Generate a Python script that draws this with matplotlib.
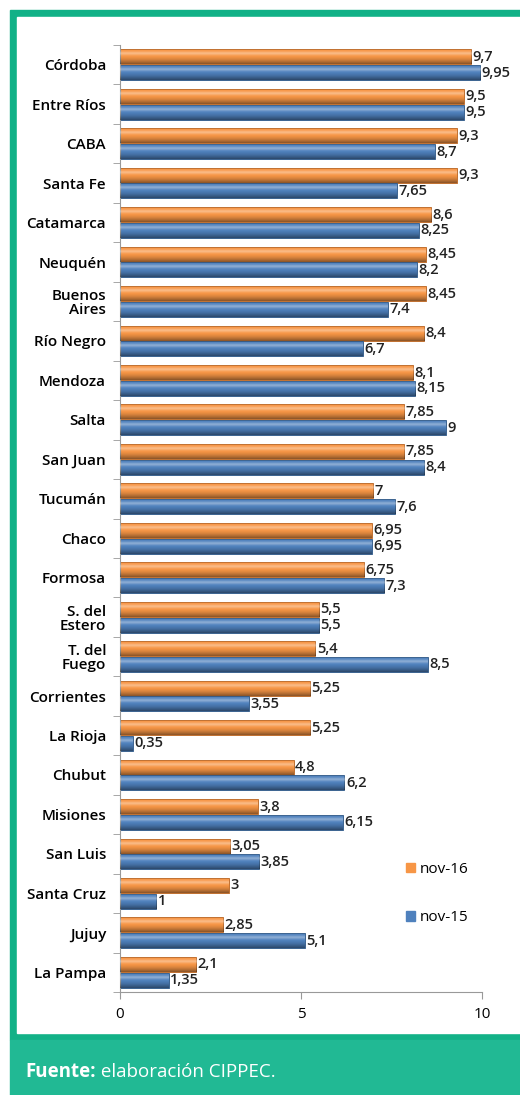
import matplotlib.pyplot as plt
import matplotlib.patches as mpatches
from matplotlib.text import Annotation
import numpy as np

provincias = ["Córdoba", "Entre Ríos", "CABA", "Santa Fe", "Catamarca", "Neuquén",
              "Buenos\nAires", "Río Negro", "Mendoza", "Salta", "San Juan", "Tucumán",
              "Chaco", "Formosa", "S. del\nEstero", "T. del\nFuego", "Corrientes",
              "La Rioja", "Chubut", "Misiones", "San Luis", "Santa Cruz", "Jujuy", "La Pampa"]
nov16 = [9.7, 9.5, 9.3, 9.3, 8.6, 8.45, 8.45, 8.4, 8.1, 7.85, 7.85, 7.0,
         6.95, 6.75, 5.5, 5.4, 5.25, 5.25, 4.8, 3.8, 3.05, 3.0, 2.85, 2.1]
nov15 = [9.95, 9.5, 8.7, 7.65, 8.25, 8.2, 7.4, 6.7, 8.15, 9.0, 8.4, 7.6,
         6.95, 7.3, 5.5, 8.5, 3.55, 0.35, 6.2, 6.15, 3.85, 1.0, 5.1, 1.35]
series = ["nov-16", "nov-15"]
colores = ["#F79646", "#4F81BD"]
bordes = ["#B8621F", "#2C5584"]

plt.rcParams['font.family'] = ["Open Sans", "DejaVu Sans"]

fig = plt.figure(figsize=(5.2, 10.95), dpi=100)
W, H = 520, 1095

# marco verde
fig.patches.append(mpatches.Rectangle((10 / W, 1 - 1040 / H), 1, 1030 / H,
                                      transform=fig.transFigure, color="#12B187", zorder=-2))
fig.patches.append(mpatches.Rectangle((17 / W, 1 - 1033 / H), 1, 1016 / H,
                                      transform=fig.transFigure, color="white", zorder=-1))
fig.patches.append(mpatches.Rectangle((10 / W, 0), 1, 55 / H,
                                      transform=fig.transFigure, color="#21B994", zorder=-1))
t1 = fig.text(25 / W, 1 - 1072 / H, "Fuente:", color="white", fontsize=13.5,
              fontweight="bold", va="center", ha="left")
fig.add_artist(Annotation(" elaboración CIPPEC.", xy=(1, 0.5), xycoords=t1, color="white",
                          fontsize=13.5, va="center", ha="left", annotation_clip=False))

ax = fig.add_axes([120 / W, 1 - 992 / H, 362 / W, 947 / H])
ax.set_zorder(1)
n = len(provincias)
y = np.arange(n)[::-1]
h = 0.38

# sombreado cilíndrico: oscuro abajo, brillo arriba
t = np.linspace(0, 1, 60)
sombra = np.zeros((60, 1, 4))
sombra[:, 0, 3] = 0.45 * np.clip(1 - t / 0.55, 0, 1) ** 1.5
brillo = np.ones((60, 1, 4))
brillo[:, 0, 3] = 0.35 * np.exp(-((t - 0.72) / 0.12) ** 2)

for k, vals in enumerate([nov16, nov15]):
    pos = y + h / 2 + 0.01 if k == 0 else y - h / 2 - 0.01
    bars = ax.barh(pos, vals, height=h, color=colores[k], edgecolor=bordes[k],
                   linewidth=0.6, label=series[k], zorder=2)
    for b, v in zip(bars, vals):
        x0, y0 = b.get_x(), b.get_y()
        ext = [x0, x0 + b.get_width(), y0, y0 + b.get_height()]
        ax.imshow(sombra, extent=ext, aspect="auto", zorder=3, origin="lower",
                  interpolation="bilinear")
        ax.imshow(brillo, extent=ext, aspect="auto", zorder=3, origin="lower",
                  interpolation="bilinear")
        ax.text(v + 0.04, y0 + h / 2, f"{v:g}".replace(".", ","), va="center",
                ha="left", fontsize=10.5, fontweight="semibold", color="#222222", zorder=4)

ax.set_xlim(0, 10)
ax.set_ylim(-0.5, n - 0.5)
ax.set_xticks([0, 5, 10])
ax.set_xticklabels(["0", "5", "10"], fontsize=11)
ax.set_yticks(y)
ax.set_yticklabels(provincias, fontsize=11, fontweight="semibold", linespacing=1.0)
ax.set_yticks(np.arange(n + 1) - 0.5, minor=True)
ax.tick_params(axis="y", which="major", length=0, pad=10)
ax.tick_params(axis="y", which="minor", length=5, color="#999999")
ax.tick_params(axis="x", length=5, color="#999999", pad=6)
for s in ["top", "right"]:
    ax.spines[s].set_visible(False)
for s in ["left", "bottom"]:
    ax.spines[s].set_color("#999999")
ax.set_facecolor("none")

handles = [mpatches.Patch(color=c) for c in colores]
fig.legend(handles, series, loc="upper left", bbox_to_anchor=(392 / W, 1 - 848 / H),
           frameon=False, fontsize=11, handlelength=0.6, handleheight=0.6,
           handletextpad=0.3, labelspacing=2.2)

fig.savefig("out.png", dpi=100)
